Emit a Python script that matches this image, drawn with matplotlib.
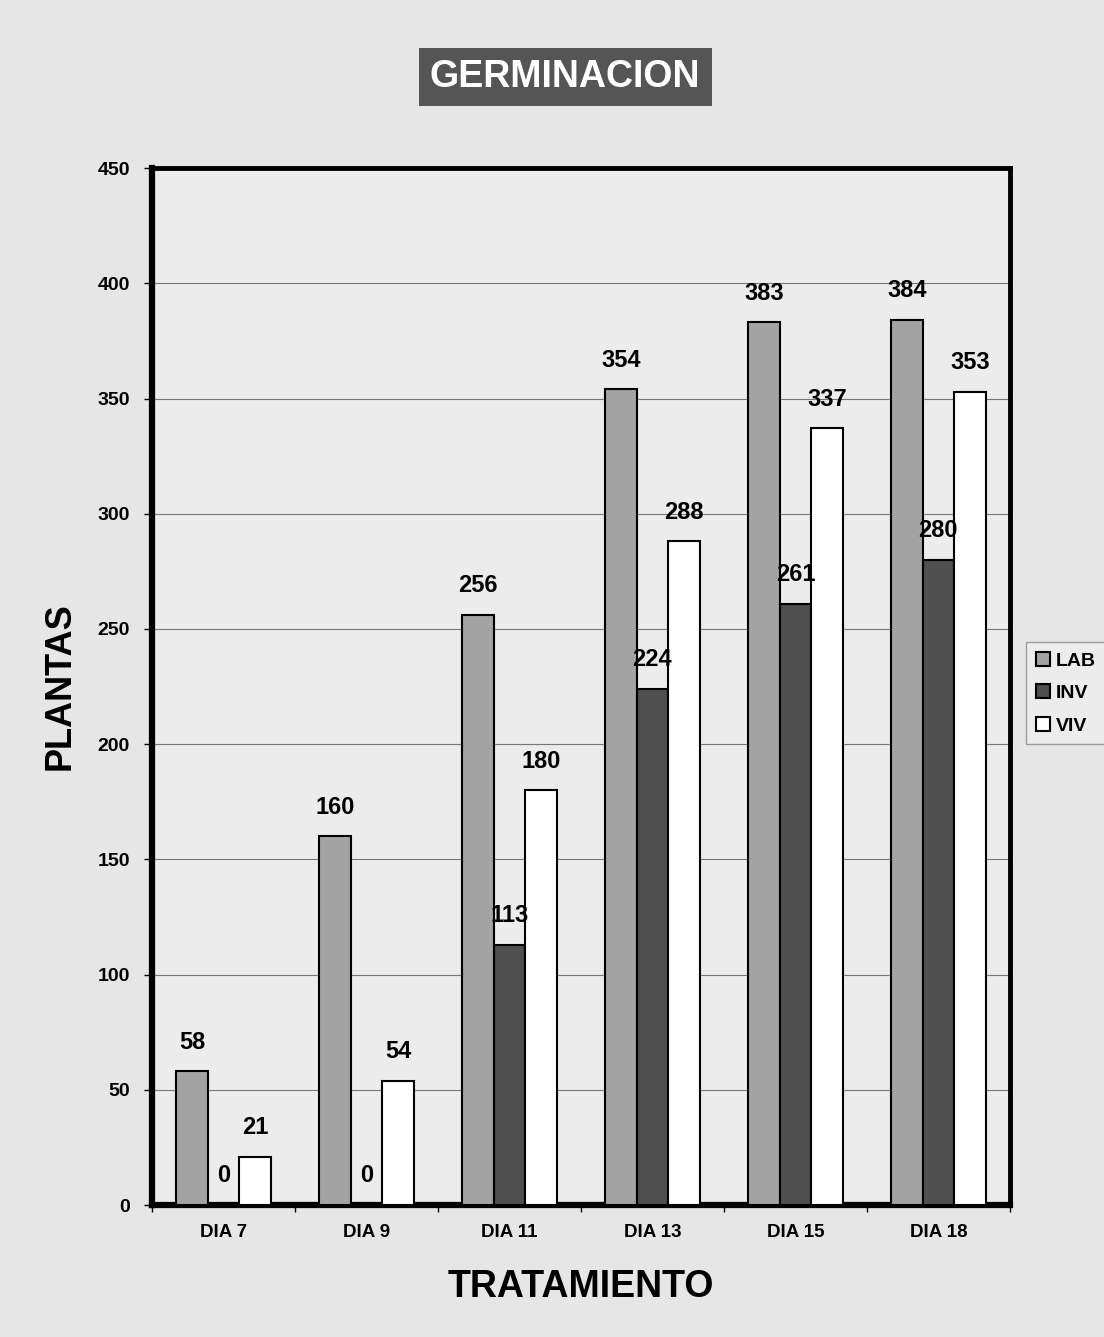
import matplotlib
matplotlib.use("Agg")
import matplotlib.pyplot as plt
import numpy as np

categories = ["DIA 7", "DIA 9", "DIA 11", "DIA 13", "DIA 15", "DIA 18"]
series_names = ["LAB", "INV", "VIV"]
lab = [58, 160, 256, 354, 383, 384]
inv = [0, 0, 113, 224, 261, 280]
viv = [21, 54, 180, 288, 337, 353]
yticks = [0, 50, 100, 150, 200, 250, 300, 350, 400, 450]

plt.rcParams['font.family'] = ['Liberation Sans', 'DejaVu Sans']
plt.rcParams['font.weight'] = 'bold'

fig = plt.figure(figsize=(11.04, 13.37), dpi=100)
fig.patch.set_facecolor('#e6e6e6')
ax = fig.add_axes([0.1377, 0.0987, 0.777, 0.7756])
ax.set_facecolor('#ececec')

x = np.arange(len(categories)) + 0.5
w = 0.22
colors = ['#a3a3a3', '#4f4f4f', '#ffffff']
data = [lab, inv, viv]
offsets = [-w, 0, w]
for vals, col, off, name in zip(data, colors, offsets, series_names):
    ax.bar(x + off, vals, width=w, color=col, edgecolor='black', linewidth=1.5,
           label=name, zorder=3)
    for xi, v in zip(x + off, vals):
        ax.annotate(str(v), (xi, v), xytext=(0, 21), textcoords='offset points',
                    ha='center', va='center', fontsize=17, fontweight='bold', zorder=5)

ax.set_xlim(0, len(categories))
ax.set_ylim(0, 450)
ax.set_yticks(yticks)
ax.set_yticklabels([str(t) for t in yticks], fontsize=14, fontweight='bold')
ax.set_xticks(x)
ax.set_xticklabels(categories, fontsize=13.5, fontweight='bold')
ax.set_xticks(np.arange(len(categories) + 1), minor=True)
ax.tick_params(axis='x', which='major', length=0, pad=14)
ax.tick_params(axis='x', which='minor', length=5, direction='out', width=1)
ax.tick_params(axis='y', length=6, width=1, direction='out', pad=10)
ax.yaxis.grid(True, color='#777777', linewidth=0.8, zorder=0)
ax.set_axisbelow(True)

for side, lw in [('left', 4.5), ('bottom', 4.5), ('top', 3.5), ('right', 3.5)]:
    ax.spines[side].set_linewidth(lw)
    ax.spines[side].set_color('black')

ax.set_ylabel("PLANTAS", fontsize=26, fontweight='bold', labelpad=14)
ax.set_xlabel("TRATAMIENTO", fontsize=27, fontweight='bold', labelpad=20)

fig.text(0.512, 1 - 77 / 1337, "GERMINACION", ha='center', va='center',
         fontsize=27, fontweight='bold', color='white',
         bbox=dict(boxstyle='square,pad=0.3', facecolor='#555555', edgecolor='none'))

leg = fig.legend(loc='upper left', bbox_to_anchor=(1026 / 1104, 1 - 642 / 1337),
                 prop={'size': 14, 'weight': 'bold'}, frameon=True, fancybox=False,
                 handlelength=0.75, handleheight=0.75, handletextpad=0.3,
                 borderpad=0.5, labelspacing=0.75, borderaxespad=0)
leg.get_frame().set_edgecolor('#888888')
leg.get_frame().set_facecolor('#eeeeee')

fig.savefig("out.png", dpi=100, facecolor=fig.get_facecolor())
